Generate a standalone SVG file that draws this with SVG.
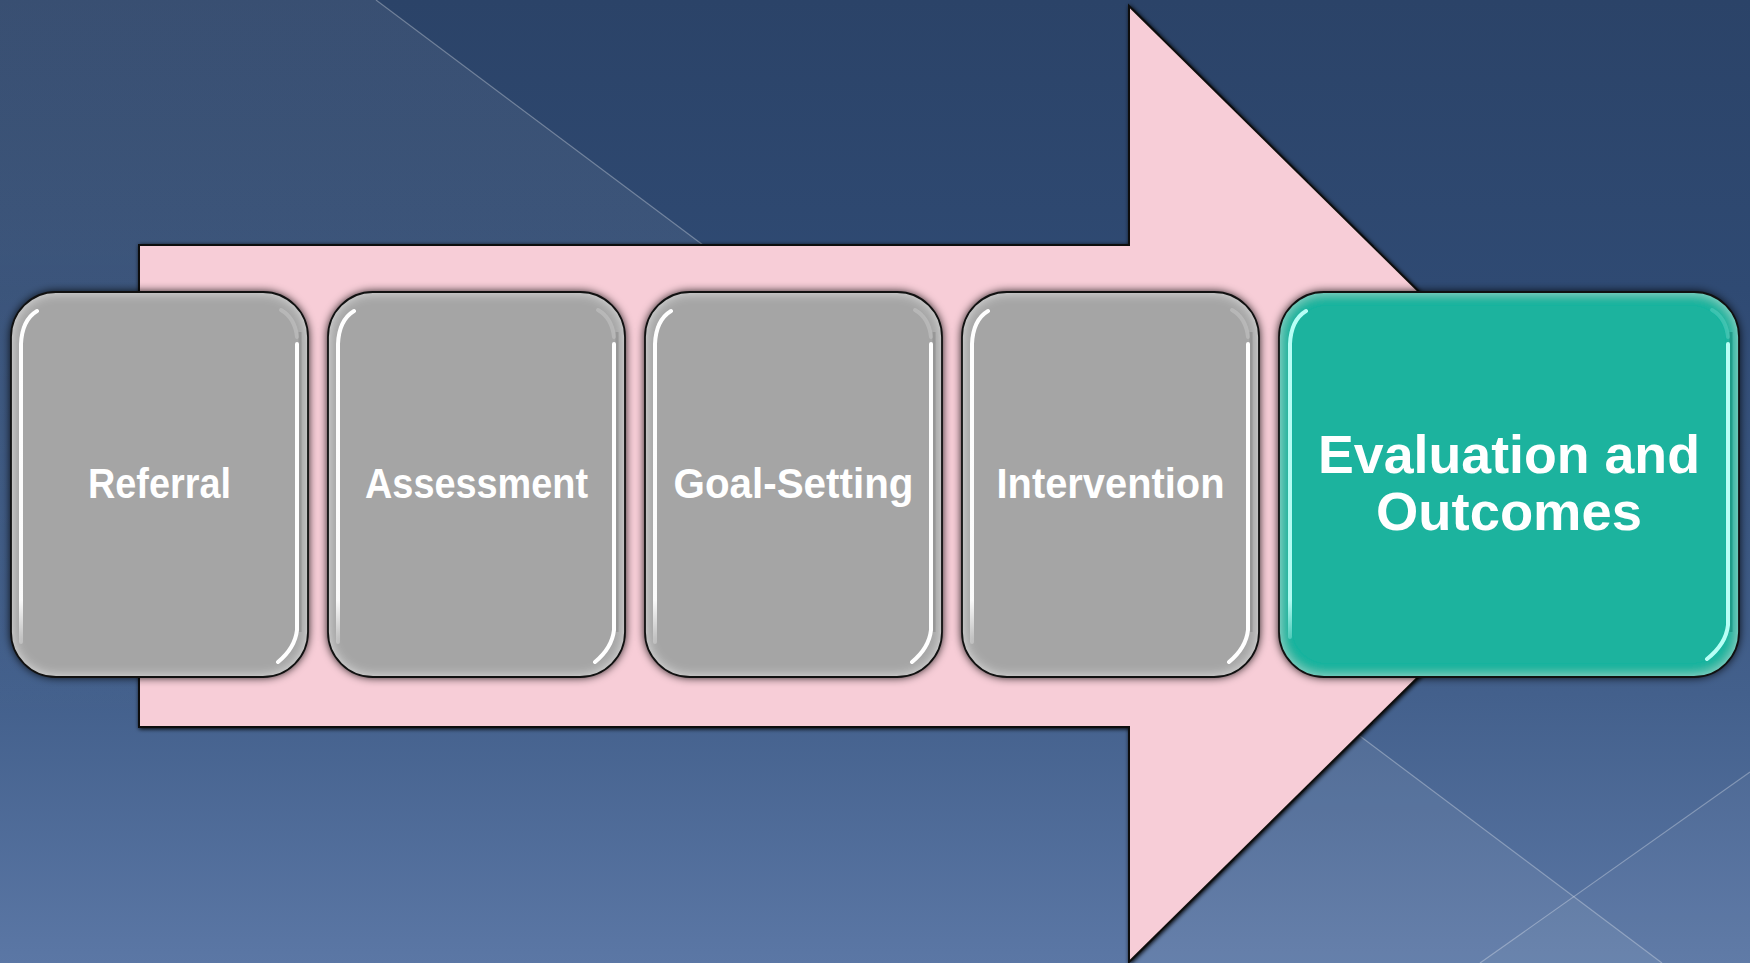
<svg xmlns="http://www.w3.org/2000/svg" xmlns:xlink="http://www.w3.org/1999/xlink" width="1750" height="963" viewBox="0 0 1750 963">
<defs>
<style>
.lbl{font-family:"Liberation Sans","DejaVu Sans",Arial,sans-serif;font-weight:bold;fill:#ffffff;text-anchor:middle}
.g{font-size:42px}
.t{font-size:54px}
.outline{fill:none;stroke:#111111;stroke-width:1.8}
.gfill{fill:#a5a5a5;filter:url(#boxfx)}
.tfill{fill:#1bb39e;filter:url(#boxfxT)}
.hl{fill:none;stroke-width:4;stroke-linecap:round}
.bgline{stroke:#ffffff;stroke-opacity:0.3;stroke-width:1.2;fill:none}
</style>
<linearGradient id="bg" x1="0" y1="0" x2="0" y2="963" gradientUnits="userSpaceOnUse">
<stop offset="0" stop-color="#2b4368"/>
<stop offset="0.3" stop-color="#2f4a73"/>
<stop offset="0.72" stop-color="#43608c"/>
<stop offset="1" stop-color="#5b77a5"/>
</linearGradient>
<linearGradient id="facetTL" x1="0" y1="0" x2="0" y2="727" gradientUnits="userSpaceOnUse">
<stop offset="0" stop-color="#ffffff" stop-opacity="0.065"/>
<stop offset="0.35" stop-color="#ffffff" stop-opacity="0.065"/>
<stop offset="1" stop-color="#ffffff" stop-opacity="0"/>
</linearGradient>
<linearGradient id="hlG" x1="0" y1="0" x2="0" y2="385" gradientUnits="userSpaceOnUse">
<stop offset="0" stop-color="#ffffff" stop-opacity="1"/>
<stop offset="0.8" stop-color="#ffffff" stop-opacity="0.95"/>
<stop offset="0.9" stop-color="#ffffff" stop-opacity="0.3"/>
<stop offset="1" stop-color="#ffffff" stop-opacity="0"/>
</linearGradient>
<linearGradient id="hlT" x1="0" y1="0" x2="0" y2="385" gradientUnits="userSpaceOnUse">
<stop offset="0" stop-color="#b8fff6" stop-opacity="1"/>
<stop offset="0.8" stop-color="#b8fff6" stop-opacity="0.95"/>
<stop offset="0.9" stop-color="#b8fff6" stop-opacity="0.3"/>
<stop offset="1" stop-color="#b8fff6" stop-opacity="0"/>
</linearGradient>
<filter id="boxfx" x="-8%" y="-8%" width="116%" height="116%">
<feGaussianBlur in="SourceAlpha" stdDeviation="5" result="sh"/>
<feGaussianBlur in="SourceAlpha" stdDeviation="6" result="b"/>
<feComposite in="SourceAlpha" in2="b" operator="arithmetic" k2="1" k3="-1" result="edge"/>
<feFlood flood-color="#ffffff" flood-opacity="0.6"/>
<feComposite in2="edge" operator="in" result="glow"/>
<feMerge><feMergeNode in="sh"/><feMergeNode in="SourceGraphic"/><feMergeNode in="glow"/></feMerge>
</filter>
<filter id="boxfxT" x="-8%" y="-8%" width="116%" height="116%">
<feGaussianBlur in="SourceAlpha" stdDeviation="5" result="sh"/>
<feGaussianBlur in="SourceAlpha" stdDeviation="6" result="b"/>
<feComposite in="SourceAlpha" in2="b" operator="arithmetic" k2="1" k3="-1" result="edge"/>
<feFlood flood-color="#c8fff8" flood-opacity="0.55"/>
<feComposite in2="edge" operator="in" result="glow"/>
<feMerge><feMergeNode in="sh"/><feMergeNode in="SourceGraphic"/><feMergeNode in="glow"/></feMerge>
</filter>
<filter id="arrowfx" x="-5%" y="-5%" width="110%" height="110%">
<feGaussianBlur in="SourceAlpha" stdDeviation="2" result="sh"/>
<feOffset in="sh" dx="1" dy="1" result="o"/>
<feMerge><feMergeNode in="o"/><feMergeNode in="SourceGraphic"/></feMerge>
</filter>
<g id="grayBox">
<rect class="gfill" x="0" y="0" width="297" height="385" rx="45" ry="45"/>
<path d="M 289,40 L 289,340" stroke="#8a8a8a" stroke-width="3" fill="none" opacity="0.6"/>
<path class="hl" stroke="url(#hlG)" d="M 26,19 Q 11,28 10,52 L 10,350"/>
<path class="hl" stroke="#ffffff" stroke-opacity="0.2" d="M 270,18 Q 284,26 286,45"/>
<path class="hl" stroke="#ffffff" d="M 286,52 L 286,338 Q 284,356 267,370"/>
<rect class="outline" x="0" y="0" width="297" height="385" rx="45" ry="45"/>
</g>
</defs>

<g id="background">
<rect x="0" y="0" width="1750" height="963" fill="url(#bg)"/>
<polygon points="0,0 376,0 703,245 139,245 139,727 0,727" fill="url(#facetTL)"/>
<line class="bgline" x1="376" y1="0" x2="703" y2="245" stroke-opacity="0.12"/>
<polygon points="1129,562 1662,963 1129,963" fill="#ffffff" fill-opacity="0.065"/>
<polygon points="1750,772 1480,963 1750,963" fill="#ffffff" fill-opacity="0.03"/>
<line class="bgline" x1="1300" y1="691" x2="1662" y2="963"/>
<line class="bgline" x1="1750" y1="772" x2="1480" y2="963"/>
</g>

<g id="connectors">
<polygon points="139,245 1129,245 1129,6 1614,484 1129,962 1129,727 139,727" fill="#f7cdd7" stroke="#111111" stroke-width="2" stroke-linejoin="miter" filter="url(#arrowfx)"/>
</g>

<g id="node-referral" transform="translate(11,292)">
<use xlink:href="#grayBox"/>
<text class="lbl g" x="148.5" y="206" textLength="143" lengthAdjust="spacingAndGlyphs">Referral</text>
</g>

<g id="node-assessment" transform="translate(328,292)">
<use xlink:href="#grayBox"/>
<text class="lbl g" x="148.5" y="206" textLength="223" lengthAdjust="spacingAndGlyphs">Assessment</text>
</g>

<g id="node-goal-setting" transform="translate(645,292)">
<use xlink:href="#grayBox"/>
<text class="lbl g" x="148.5" y="206" textLength="240" lengthAdjust="spacingAndGlyphs">Goal-Setting</text>
</g>

<g id="node-intervention" transform="translate(962,292)">
<use xlink:href="#grayBox"/>
<text class="lbl g" x="148.5" y="206" textLength="228" lengthAdjust="spacingAndGlyphs">Intervention</text>
</g>

<g id="node-evaluation" transform="translate(1279,292)">
<rect class="tfill" x="0" y="0" width="460" height="385" rx="45" ry="45"/>
<path d="M 452,40 L 452,340" stroke="#0e7f70" stroke-width="3" fill="none" opacity="0.5"/>
<path class="hl" stroke="url(#hlT)" d="M 27,19 Q 12,28 11,52 L 11,345"/>
<path class="hl" stroke="#b8fff6" stroke-opacity="0.2" d="M 433,18 Q 447,26 449,45"/>
<path class="hl" stroke="#b8fff6" d="M 449,52 L 449,333 Q 447,352 428,367"/>
<rect class="outline" x="0" y="0" width="460" height="385" rx="45" ry="45"/>
<text class="lbl t" x="230" y="181" textLength="382" lengthAdjust="spacingAndGlyphs">Evaluation and</text>
<text class="lbl t" x="230" y="238" textLength="266" lengthAdjust="spacingAndGlyphs">Outcomes</text>
</g>
</svg>
